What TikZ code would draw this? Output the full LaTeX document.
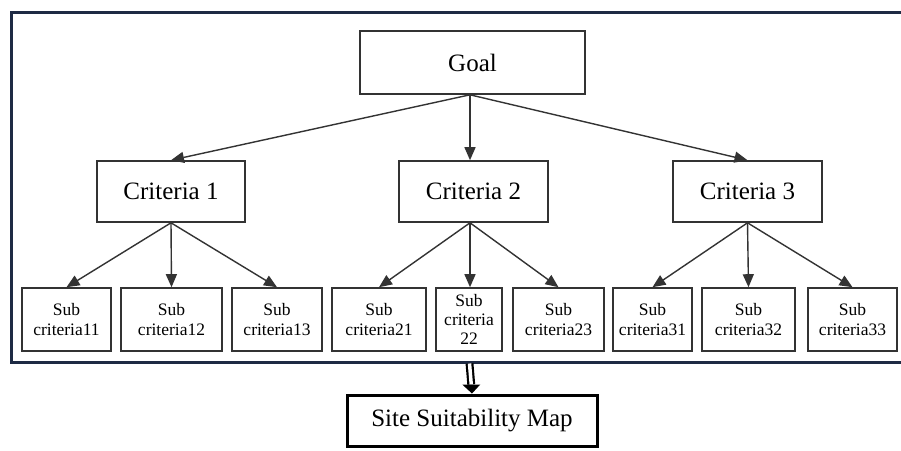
\documentclass[tikz,border=0pt]{standalone}
\usepackage{fontspec}
\setmainfont{Liberation Serif}
\usetikzlibrary{arrows.meta,calc}
\definecolor{framec}{HTML}{1E2A44}
\definecolor{boxc}{HTML}{333333}
\begin{document}
\begin{tikzpicture}[x=1pt,y=-1pt,
  box/.style={draw=boxc,line width=1.6pt,inner sep=0pt,align=center,font=\fontsize{25}{28}\selectfont},
  subbox/.style={draw=boxc,line width=1.6pt,inner sep=0pt,align=center,minimum height=63pt,font=\fontsize{17.5}{20.5}\selectfont},
  conn/.style={draw=boxc,line width=1.4pt,-{Triangle[length=13pt,width=11pt]}}]
\useasboundingbox (0,0) rectangle (901,450);
\fill[white] (0,0) rectangle (901,450);
\draw[framec,line width=3pt] (11,12) rectangle (920,362);
\node[box,minimum width=225pt,minimum height=63pt] (goal) at (472.5,62.5) {Goal};
\node[box,minimum width=148pt,minimum height=61pt] (c1) at (171,191.5) {Criteria 1};
\node[box,minimum width=149pt,minimum height=61pt] (c2) at (473.5,191.5) {Criteria 2};
\node[box,minimum width=149pt,minimum height=61pt] (c3) at (747.5,191.5) {Criteria 3};
\node[subbox,minimum width=89pt] (s11) at (66.5,319.5) {Sub\\criteria11};
\node[subbox,minimum width=101pt] (s12) at (171.5,319.5) {Sub\\criteria12};
\node[subbox,minimum width=90pt] (s13) at (277,319.5) {Sub\\criteria13};
\node[subbox,minimum width=94pt] (s21) at (379,319.5) {Sub\\criteria21};
\node[subbox,minimum width=66pt,font=\fontsize{17.5}{19}\selectfont] (s22) at (469,319.5) {Sub\\criteria\\22};
\node[subbox,minimum width=91pt] (s23) at (558.5,319.5) {Sub\\criteria23};
\node[subbox,minimum width=79pt] (s31) at (652.5,319.5) {Sub\\criteria31};
\node[subbox,minimum width=93pt] (s32) at (748.5,319.5) {Sub\\criteria32};
\node[subbox,minimum width=89pt] (s33) at (852.5,319.5) {Sub\\criteria33};
\node[draw=black,line width=3pt,inner sep=0pt,minimum width=250pt,minimum height=51pt,font=\fontsize{25}{28}\selectfont] (site) at (472,420.5) {Site Suitability Map};
\coordinate (gs) at ([xshift=-2.5pt]goal.south);
\coordinate (c2s) at ([xshift=-3.5pt]c2.south);
\draw[conn] (gs) -- (c1.north);
\draw[conn] (gs) -- (gs |- c2.north);
\draw[conn] (gs) -- (c3.north);
\foreach \s in {s11,s12,s13}{\draw[conn] (c1.south) -- (\s.north);}
\draw[conn] (c2s) -- (s21.north);
\draw[conn] (c2s) -- (c2s |- s22.north);
\draw[conn] (c2s) -- (s23.north);
\foreach \s in {s31,s32,s33}{\draw[conn] (c3.south) -- (\s.north);}
\coordinate (fb) at (469.5,363.5);
\coordinate (mid) at ($(fb)!0.7!(site.north)$);
\draw[black,line width=2.2pt,double,double distance=3.5pt] (fb) -- (mid);
\fill[black] ([xshift=-9pt]mid) -- ([xshift=9pt]mid) -- (site.north) -- cycle;
\end{tikzpicture}
\end{document}
